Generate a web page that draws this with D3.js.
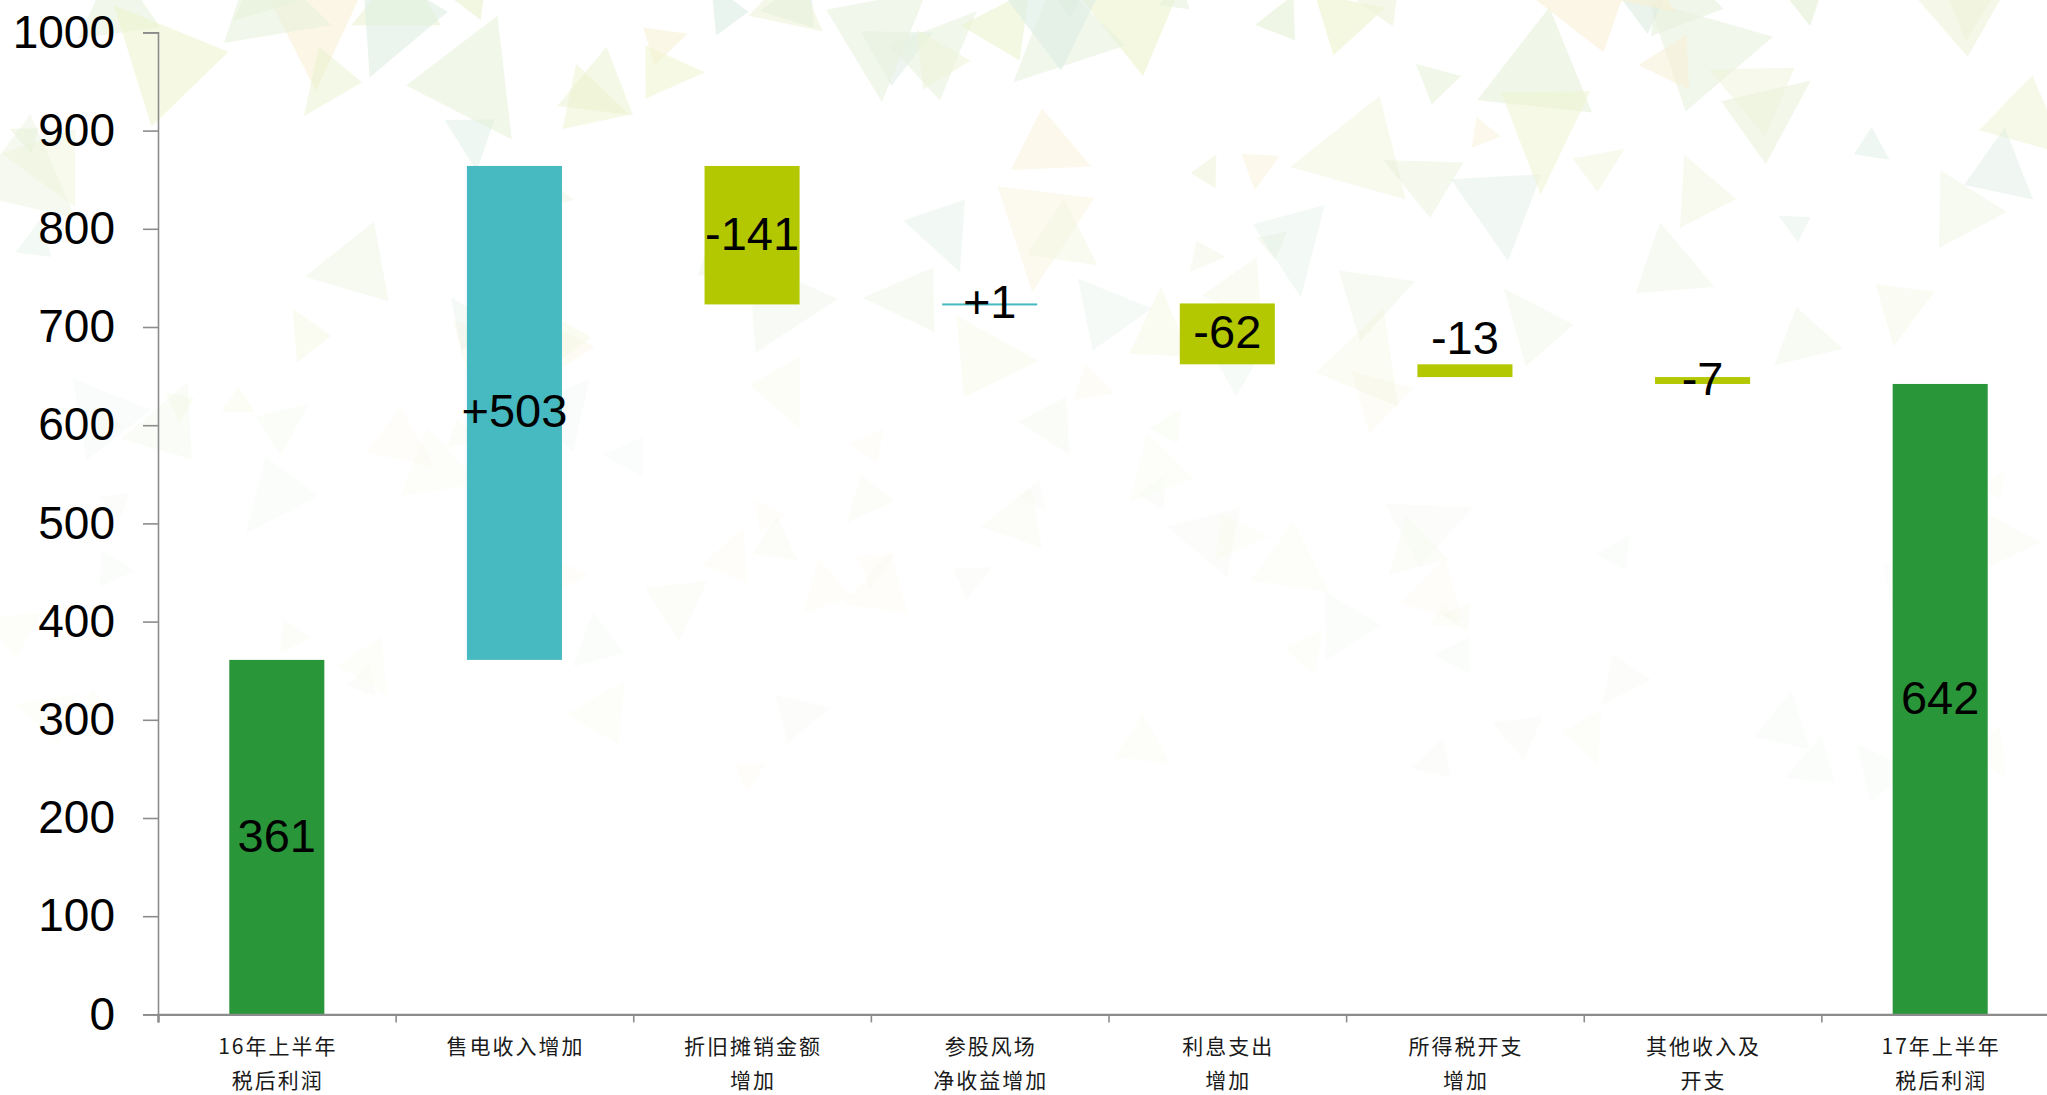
<!DOCTYPE html>
<html>
<head>
<meta charset="utf-8">
<script src="https://cdn.jsdelivr.net/npm/d3@7"></script>
<style>
  html, body { margin: 0; padding: 0; background: #fff; }
  svg { display: block; }
  .tick text { font-family: "Liberation Sans", Arial, sans-serif; }
</style>
</head>
<body>
<svg class="waterfall" width="2047" height="1095"></svg>
<script>
// chart data
const categories = [
  ["16年上半年", "税后利润"],
  ["售电收入增加"],
  ["折旧摊销金额", "增加"],
  ["参股风场", "净收益增加"],
  ["利息支出", "增加"],
  ["所得税开支", "增加"],
  ["其他收入及", "开支"],
  ["17年上半年", "税后利润"]
];
const values = [361, 503, -141, 1, -62, -13, -7, 642];
const kinds = ["total", "delta", "delta", "delta", "delta", "delta", "delta", "total"];
const valueLabels = ["361", "+503", "-141", "+1", "-62", "-13", "-7", "642"];
const yTicks = [0, 100, 200, 300, 400, 500, 600, 700, 800, 900, 1000];

waterfall();

function waterfall(margin = { top: 32.4, left: 158, bottom: 80.6 }) {
  const svg = d3.select(".waterfall");
  const width = +svg.attr("width");
  const height = +svg.attr("height");

  background(svg, width, height);

  // running totals for the floating bars
  let run = 0;
  const bars = values.map((v, i) => {
    let y0, y1;
    if (kinds[i] === "total") {
      y0 = 0; y1 = v; run = v;
    } else {
      y0 = run; y1 = run + v; run = y1;
    }
    return { i, v, kind: kinds[i], lo: Math.min(y0, y1), hi: Math.max(y0, y1) };
  });

  // the plot runs a little past the right edge of the picture
  const plotRight = 2059;
  const x = d3.scaleBand()
    .domain(d3.range(categories.length))
    .range([margin.left, plotRight])
    .paddingInner(0.6)
    .paddingOuter(0.3);

  const y = d3.scaleLinear()
    .domain([0, 1000])
    .range([height - margin.bottom, margin.top]);

  const color = (d) => d.kind === "total" ? "#2a963a" : (d.v >= 0 ? "#46b9c1" : "#b3c800");

  // Bars
  svg.append("g")
    .selectAll("rect")
    .data(bars)
    .join("rect")
    .attr("x", (d) => x(d.i))
    .attr("width", x.bandwidth())
    .attr("y", (d) => y(d.hi))
    .attr("height", (d) => Math.max(2, y(d.lo) - y(d.hi)))
    .attr("fill", color);

  // Y axis
  svg.append("g")
    .attr("transform", `translate(${margin.left},0)`)
    .call(d3.axisLeft(y).tickValues(yTicks).tickFormat(d3.format("d")).tickSize(15).tickPadding(28))
    .call((g) => g.select(".domain").attr("stroke", "#8c8c8c").attr("stroke-width", 1.6))
    .call((g) => g.selectAll(".tick line").attr("stroke", "#8c8c8c").attr("stroke-width", 1.6))
    .call((g) => g.selectAll(".tick text").attr("font-size", 46).attr("fill", "#000"));

  // X axis, ticks on category boundaries
  const xb = d3.scaleLinear().domain([0, categories.length]).range([margin.left, plotRight]);
  svg.append("g")
    .attr("transform", `translate(0,${y(0)})`)
    .call(d3.axisBottom(xb).tickValues(d3.range(categories.length + 1)).tickSize(8).tickFormat(""))
    .call((g) => g.select(".domain").attr("stroke", "#8c8c8c").attr("stroke-width", 2.4))
    .call((g) => g.selectAll(".tick line").attr("stroke", "#8c8c8c").attr("stroke-width", 1.6));

  // Category labels
  const cat = svg.append("g")
    .attr("font-family", "'Noto Sans CJK SC', sans-serif")
    .attr("font-size", 21)
    .attr("letter-spacing", 2)
    .attr("fill", "#1a1a1a")
    .attr("text-anchor", "middle");

  categories.forEach((lines, i) => {
    lines.forEach((t, k) => {
      cat.append("text")
        .attr("x", x(i) + x.bandwidth() / 2 + 1)
        .attr("y", y(0) + 31 + k * 34)
        .attr("dominant-baseline", "central")
        .text(t);
    });
  });

  // Value labels (centred on the bar; the -13 label sits above its bar in the original)
  svg.append("g")
    .attr("font-family", "'Liberation Sans', Arial, sans-serif")
    .attr("font-size", 47)
    .attr("fill", "#000")
    .attr("text-anchor", "middle")
    .selectAll("text")
    .data(bars)
    .join("text")
    .attr("x", (d) => x(d.i) + x.bandwidth() / 2)
    .attr("y", (d) => d.i === 5 ? y(d.hi) - 27 : y((d.lo + d.hi) / 2) - 2)
    .attr("dominant-baseline", "central")
    .text((d) => valueLabels[d.i]);
}

// faint triangle texture behind the plot (decoration only, seeded so it is stable)
function background(svg, width, height) {
  const rnd = d3.randomLcg(0.4217);
  const tones = ["#e4efd4", "#edf3cc", "#dcede2", "#eef3d8", "#f8f0d4", "#e8f1dc", "#eaf2cf"];
  const g = svg.append("g");
  for (let n = 0; n < 160; n++) {
    const cx = rnd() * width;
    const cy = Math.pow(rnd(), 1.5) * height * 0.72 - 10;
    const s = 16 + rnd() * 60 * (1 - cy / height);
    const a = rnd() * Math.PI * 2;
    const pts = [0, 1, 2].map((k) => {
      const ang = a + k * 2 * Math.PI / 3 + (rnd() - 0.5) * 0.5;
      return [cx + Math.cos(ang) * s, cy + Math.sin(ang) * s];
    });
    g.append("polygon")
      .attr("points", pts.map((p) => p.join(",")).join(" "))
      .attr("fill", tones[Math.floor(rnd() * tones.length)])
      .attr("opacity", Math.max(0.12, 0.6 - cy / (height * 0.9)));
  }
}
</script>
</body>
</html>
